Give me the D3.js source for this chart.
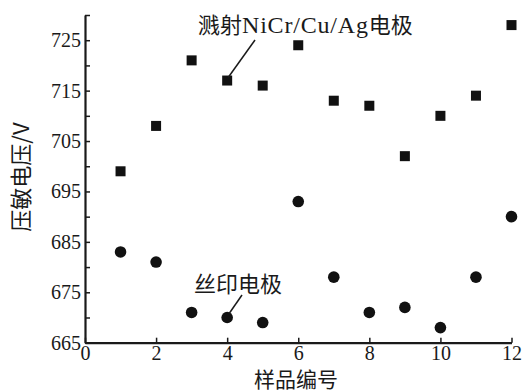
<!DOCTYPE html>
<html>
<head>
<meta charset="utf-8">
<script src="https://cdn.jsdelivr.net/npm/d3@7"></script>
<style>
  html, body { margin: 0; padding: 0; background: #fff; }
  svg { display: block; }
  .serif { font-family: "Liberation Serif", "Times New Roman", "DejaVu Serif", serif; }
</style>
</head>
<body>
<div id="chart"></div>
<script>
// Datos
const samples = [1, 2, 3, 4, 5, 6, 7, 8, 9, 10, 11, 12];
const sputterVoltage = [699, 708, 721, 717, 716, 724, 713, 712, 702, 710, 714, 728];
const printVoltage = [683, 681, 671, 670, 669, 693, 678, 671, 672, 668, 678, 690];
const xTicks = [0, 2, 4, 6, 8, 10, 12];
const yTicks = [665, 670, 675, 680, 685, 690, 695, 700, 705, 710, 715, 720, 725, 730];
const yLabelTicks = [665, 675, 685, 695, 705, 715, 725];

const W = 527, H = 392;
const cjk = "Noto Sans CJK SC";
const ink = "#1a1a1a";

const svg = d3.select("#chart")
    .append("svg")
    .attr("width", W)
    .attr("height", H);

// Escalas
const x = d3.scaleLinear().domain([0, 12]).range([85, 511.5]);
const y = d3.scaleLinear().domain([665, 730]).range([342.7, 15]);

// Eje X
const gx = svg.append("g")
    .attr("transform", `translate(0, ${y(665)})`)
    .call(d3.axisBottom(x)
        .tickValues(xTicks)
        .tickSizeInner(-5)
        .tickSizeOuter(0)
        .tickPadding(3)
        .tickFormat(d3.format("d")));
gx.attr("font-family", null);
gx.select(".domain").attr("stroke", ink).attr("stroke-width", 2.2);
gx.selectAll(".tick line").attr("stroke", ink).attr("stroke-width", 1.5);
gx.selectAll(".tick text")
    .attr("class", "serif")
    .attr("fill", ink)
    .attr("font-size", 20);

// Eje Y
const gy = svg.append("g")
    .attr("transform", `translate(${x(0)}, 0)`)
    .call(d3.axisLeft(y)
        .tickValues(yTicks)
        .tickSizeInner(-5)
        .tickSizeOuter(0)
        .tickPadding(4)
        .tickFormat(d => yLabelTicks.includes(d) ? d : ""));
gy.attr("font-family", null);
gy.select(".domain").attr("stroke", ink).attr("stroke-width", 2.2);
gy.selectAll(".tick line").attr("stroke", ink).attr("stroke-width", 1.5);
gy.selectAll(".tick text")
    .attr("class", "serif")
    .attr("fill", ink)
    .attr("font-size", 20);

// Puntos: electrodo pulverizado (cuadrados)
const sq = 10;
svg.selectAll("rect.sputter")
    .data(samples)
    .enter()
    .append("rect")
    .attr("class", "sputter")
    .attr("x", d => x(d) - sq / 2)
    .attr("y", (d, i) => y(sputterVoltage[i]) - sq / 2)
    .attr("width", sq)
    .attr("height", sq)
    .attr("fill", "#111");

// Puntos: electrodo serigrafiado (círculos)
svg.selectAll("circle.print")
    .data(samples)
    .enter()
    .append("circle")
    .attr("class", "print")
    .attr("cx", d => x(d))
    .attr("cy", (d, i) => y(printVoltage[i]))
    .attr("r", 5.8)
    .attr("fill", "#111");

// Anotaciones
const t1 = svg.append("text")
    .attr("x", 198)
    .attr("y", 33)
    .attr("fill", ink)
    .attr("font-size", 22);
t1.append("tspan").attr("font-family", cjk).text("溅射");
t1.append("tspan").attr("class", "serif").attr("font-size", 24).attr("letter-spacing", 0.8).text("NiCr/Cu/Ag");
t1.append("tspan").attr("font-family", cjk).text("电极");

svg.append("line")
    .attr("x1", 255).attr("y1", 40)
    .attr("x2", x(4) + 1).attr("y2", y(sputterVoltage[3]) - 3)
    .attr("stroke", ink).attr("stroke-width", 1.5);

svg.append("text")
    .attr("x", 194)
    .attr("y", 292)
    .attr("fill", ink)
    .attr("font-family", cjk)
    .attr("font-size", 22)
    .text("丝印电极");

svg.append("line")
    .attr("x1", 242).attr("y1", 295)
    .attr("x2", x(4) + 2).attr("y2", y(printVoltage[3]) - 4)
    .attr("stroke", ink).attr("stroke-width", 1.5);

// Etiquetas de ejes
svg.append("text")
    .attr("x", 296)
    .attr("y", 387)
    .attr("text-anchor", "middle")
    .attr("fill", ink)
    .attr("font-family", cjk)
    .attr("font-size", 21)
    .text("样品编号");

svg.append("text")
    .attr("transform", "translate(29, 177) rotate(-90)")
    .attr("text-anchor", "middle")
    .attr("fill", ink)
    .attr("font-family", cjk)
    .attr("font-size", 22)
    .text("压敏电压/V");
</script>
</body>
</html>
